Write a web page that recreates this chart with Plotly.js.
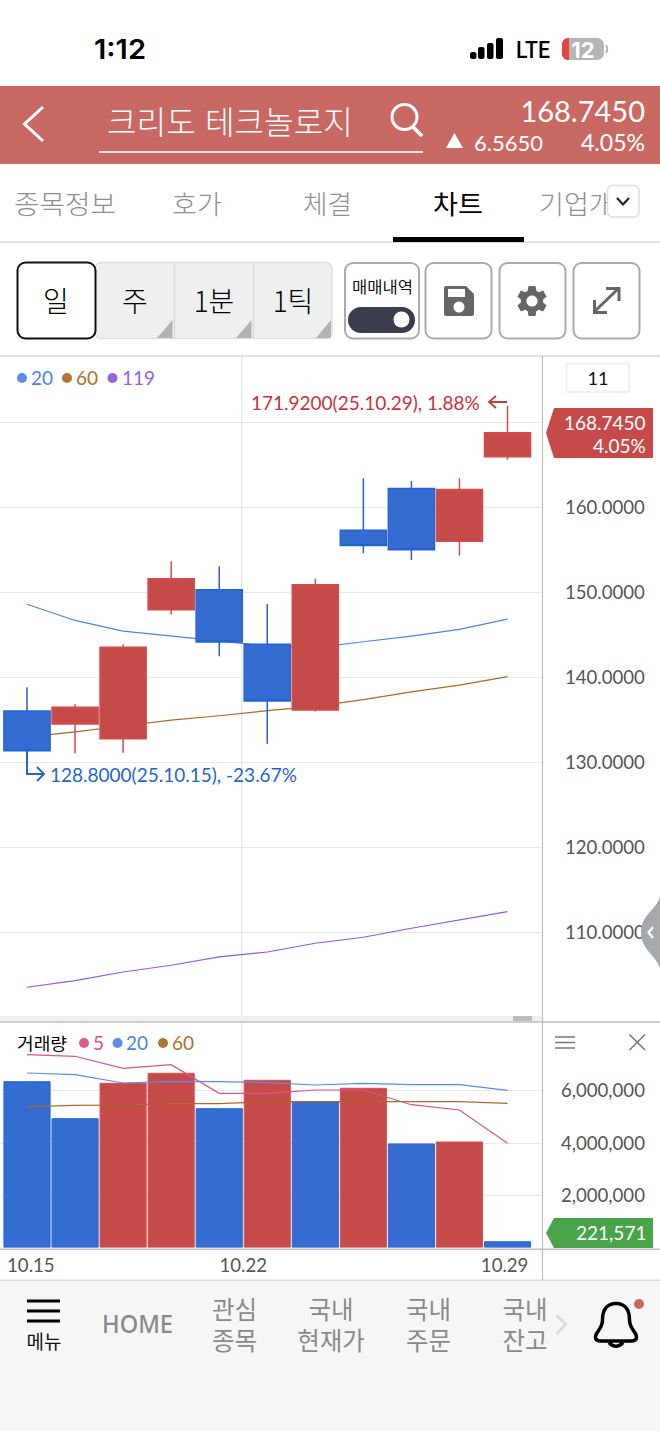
<!DOCTYPE html>
<html lang="ko"><head><meta charset="utf-8">
<script src="https://cdn.plot.ly/plotly-3.0.1.min.js"></script>
<style>
html,body{margin:0;padding:0;background:#fff;width:660px;height:1431px;overflow:hidden}
#chart{position:absolute;left:0;top:0;width:660px;height:1431px}
#ui{position:absolute;left:0;top:0;pointer-events:none}
#ui text{dominant-baseline:central;font-family:"Noto Sans CJK KR","Noto Sans",sans-serif}
#ui .n{font-family:Lato,"Noto Sans",sans-serif}
</style></head><body>
<div id="chart"></div>
<svg id="ui" width="660" height="1431" viewBox="0 0 660 1431" xmlns="http://www.w3.org/2000/svg">
  <defs><clipPath id="tabclip"><rect x="0" y="170" width="607" height="60"/></clipPath></defs>
  <!-- status bar -->
  <text x="94" y="49" font-size="27" font-weight="600" style="font-family:Inter" textLength="52" lengthAdjust="spacingAndGlyphs">1:12</text>
  <g fill="#000"><rect x="470" y="52" width="6.5" height="7" rx="2.5"/><rect x="478" y="47" width="6.5" height="12" rx="2"/><rect x="487" y="43" width="6.5" height="16" rx="2"/><rect x="496" y="38" width="7" height="21" rx="2"/></g>
  <text x="516" y="50" font-size="23" font-weight="500" style="font-family:Roboto" textLength="34" lengthAdjust="spacingAndGlyphs">LTE</text>
  <rect x="562" y="38" width="42" height="22" rx="7" fill="#b5b5b5"/><path d="M569 38h-1a6 6 0 0 0-6 6v10a6 6 0 0 0 6 6h1z" fill="#ea4141"/>
  <text x="583" y="49.5" text-anchor="middle" font-size="22" font-weight="700" fill="#fff" style="font-family:Inter">12</text>
  <path d="M606 45q2.5 4 0 8" stroke="#b5b5b5" stroke-width="2" fill="none"/>
  <!-- header -->
  <rect x="0" y="86" width="660" height="78" fill="#c96964"/>
  <path d="M43 107L24.500 124L43 141" fill="none" stroke="#fff" stroke-width="3"/>
  <text x="107" y="120" font-size="31.500" font-weight="300" fill="#fff" textLength="246" lengthAdjust="spacingAndGlyphs">크리도 테크놀로지</text>
  <rect x="99" y="151" width="324" height="2" fill="#f3e3e1"/>
  <circle cx="404.500" cy="117" r="12.500" fill="none" stroke="#fff" stroke-width="3"/><path d="M413 127L422 136" stroke="#fff" stroke-width="3.500"/>
  <text class="n" x="645" y="110" text-anchor="end" font-size="29" fill="#fff">168.7450</text>
  <path d="M446 148L454.500 133L463 148Z" fill="#fff"/>
  <text class="n" x="474" y="142" font-size="22" fill="#fff" textLength="69" lengthAdjust="spacingAndGlyphs">6.5650</text>
  <text class="n" x="581" y="142" font-size="22.500" fill="#fff" textLength="64" lengthAdjust="spacingAndGlyphs">4.05%</text>
  <!-- tabs -->
  <g font-size="26" fill="#8f8f8f" font-weight="300">
    <text x="14" y="202" textLength="102" lengthAdjust="spacingAndGlyphs">종목정보</text>
    <text x="172" y="202" textLength="50" lengthAdjust="spacingAndGlyphs">호가</text>
    <text x="303" y="202" textLength="49" lengthAdjust="spacingAndGlyphs">체결</text>
    <text x="433" y="202" textLength="50" lengthAdjust="spacingAndGlyphs" fill="#000" font-weight="400">차트</text>
    <g clip-path="url(#tabclip)"><text x="539" y="202" textLength="100" lengthAdjust="spacingAndGlyphs">기업개요</text></g>
  </g>
  <rect x="607.500" y="185.500" width="31.500" height="31.500" rx="5" fill="#fff" stroke="#dedede" stroke-width="1.500"/>
  <path d="M617 198L623 204.500L629 198" fill="none" stroke="#222" stroke-width="2.200"/>
  <rect x="0" y="241.500" width="660" height="1.500" fill="#dcdcdc"/>
  <rect x="393" y="237" width="131" height="5" fill="#000"/>
  <!-- toolbar -->
  <rect x="95" y="262.500" width="237" height="76" rx="6" fill="#eef0f0" stroke="#dfdfdf" stroke-width="1.500"/>
  <path d="M174.500 262V339M253.500 262V339" stroke="#dcdcdc" stroke-width="1.500"/>
  <g fill="#b2b2b2"><path d="M172.500 320V338H157Z"/><path d="M251.500 320V338H236Z"/><path d="M331 320V338H316Z"/></g>
  <rect x="17.500" y="262.500" width="78" height="76" rx="8" fill="#fff" stroke="#111" stroke-width="2"/>
  <g font-size="28" fill="#000" text-anchor="middle" font-weight="300">
    <text x="56" y="300">일</text><text x="135" y="300">주</text><text x="214" y="300">1분</text><text x="293" y="300">1틱</text>
  </g>
  <g fill="#fff" stroke="#ababab" stroke-width="2">
    <rect x="345" y="263" width="74" height="75.500" rx="8"/><rect x="425.500" y="263" width="66" height="75.500" rx="8"/><rect x="499.500" y="263" width="66" height="75.500" rx="8"/><rect x="573.500" y="263" width="66" height="75.500" rx="8"/>
  </g>
  <text x="382.500" y="286" text-anchor="middle" font-size="15.500" fill="#111" textLength="61" lengthAdjust="spacingAndGlyphs">매매내역</text>
  <rect x="348" y="307" width="67" height="26" rx="13" fill="#3a3d4c"/><circle cx="401.500" cy="319.500" r="8" fill="#fff"/>
  <path d="M446 286H466L474 294V314a2 2 0 0 1-2 2H446a2 2 0 0 1-2-2V288a2 2 0 0 1 2-2Z" fill="#666"/>
  <rect x="448" y="289" width="17" height="8" fill="#fff"/><circle cx="459" cy="307" r="5.500" fill="#fff"/>
  <g transform="translate(513.400,282.400) scale(1.550)"><path fill="#666" d="M19.140 12.940c.04-.3.06-.61.06-.94 0-.32-.02-.64-.07-.94l2.030-1.580a.49.49 0 0 0 .12-.61l-1.920-3.320a.488.488 0 0 0-.59-.22l-2.390.96c-.5-.38-1.030-.7-1.620-.94l-.36-2.540a.484.484 0 0 0-.48-.41h-3.840c-.24 0-.43.17-.47.41l-.36 2.540c-.59.24-1.130.57-1.620.94l-2.390-.96c-.22-.08-.47 0-.59.22L2.740 8.870c-.12.21-.08.47.12.61l2.030 1.580c-.05.3-.09.63-.09.94s.02.64.07.94l-2.030 1.580a.49.49 0 0 0-.12.61l1.920 3.320c.12.22.37.29.59.22l2.390-.96c.5.38 1.030.7 1.620.94l.36 2.540c.05.24.24.41.48.41h3.840c.24 0 .44-.17.47-.41l.36-2.540c.59-.24 1.130-.56 1.620-.94l2.390.96c.22.08.47 0 .59-.22l1.920-3.320c.12-.22.07-.47-.12-.61l-2.010-1.580zM12 15.600c-1.980 0-3.600-1.620-3.600-3.600s1.620-3.600 3.600-3.600 3.600 1.620 3.600 3.600-1.620 3.600-3.600 3.600z"/></g>
  <g fill="none" stroke="#666" stroke-width="3"><path d="M595 311L618 289"/><path d="M606 288.500H619V301"/><path d="M594.500 300V312.500H607"/></g>
  <!-- chart legend -->
  <g class="n">
    <circle cx="22" cy="378" r="5" fill="#5d8ae4"/><text class="n" x="31" y="377.5" font-size="19" fill="#4f82e4">20</text>
    <circle cx="67" cy="378" r="5" fill="#b07538"/><text class="n" x="76" y="377.5" font-size="19" fill="#b07030">60</text>
    <circle cx="112.500" cy="378" r="5" fill="#9763da"/><text class="n" x="122" y="377.5" font-size="19" fill="#9763da">119</text>
  </g>
  <rect x="566.500" y="363.500" width="62.500" height="28.500" fill="#fff" stroke="#ececec" stroke-width="1.500"/>
  <text class="n" x="598" y="377.500" text-anchor="middle" font-size="18" fill="#111">11</text>
  <!-- extreme arrows -->
  <g fill="none" stroke="#c93a3a" stroke-width="1.800"><path d="M507 402H489M496 396L489 402L496 408"/></g>
  <g fill="none" stroke="#1f62cc" stroke-width="1.800"><path d="M27 750V774H44M37 767L44 774L37 781"/></g>
  <!-- slide handle -->
  <path d="M660 897C656 910 641 915 641 932C641 950 656 955 660 968Z" fill="#a6aaae"/>
  <path d="M653 927L648.500 932.500L653 938" fill="none" stroke="#fff" stroke-width="2.200"/>
  <!-- volume legend -->
  <text x="17" y="1042.500" font-size="16.500" fill="#000" textLength="50" lengthAdjust="spacingAndGlyphs">거래량</text>
  <circle cx="84" cy="1043" r="5" fill="#d85f8f"/><text class="n" x="93" y="1042.500" font-size="19" fill="#d64f83">5</text>
  <circle cx="117.500" cy="1043" r="5" fill="#5d8ae4"/><text class="n" x="126" y="1042.500" font-size="19" fill="#4f82e4">20</text>
  <circle cx="163" cy="1043" r="5" fill="#b07538"/><text class="n" x="172" y="1042.500" font-size="19" fill="#b07030">60</text>
  <path d="M555 1037H575M555 1042.500H575M555 1048H575" stroke="#777" stroke-width="1.500"/>
  <path d="M629.500 1034.500L645 1050M645 1034.500L629.500 1050" stroke="#777" stroke-width="1.500"/>
  <!-- bottom nav -->
  <rect x="0" y="1281" width="660" height="150" fill="#f5f7f6"/>
  <path d="M27 1301H60M27 1311H60M27 1321H60" stroke="#000" stroke-width="3"/>
  <text x="44" y="1340" text-anchor="middle" font-size="19" fill="#111">메뉴</text>
  <text x="102" y="1323" font-size="26" font-weight="500" fill="#8a8a8a" textLength="71" lengthAdjust="spacingAndGlyphs" style="font-family:'Noto Sans'">HOME</text>
  <g font-size="24.500" fill="#8a8a8a" text-anchor="middle" font-weight="400">
    <text y="1308"><tspan x="234.500">관심</tspan><tspan x="234.500" dy="31">종목</tspan></text>
    <text y="1308"><tspan x="331">국내</tspan><tspan x="331" dy="31">현재가</tspan></text>
    <text y="1308"><tspan x="428.500">국내</tspan><tspan x="428.500" dy="31">주문</tspan></text>
    <text y="1308"><tspan x="525">국내</tspan><tspan x="525" dy="31">잔고</tspan></text>
  </g>
  <path d="M556.500 1315L565.500 1324.500L556.500 1334" fill="none" stroke="#dcdcdc" stroke-width="3"/>
  <path d="M616 1303.500C606 1303.500 602.500 1311 602.500 1320C602.500 1329 595.500 1332 595.500 1337C595.500 1340 598 1341 601 1341H631C634 1341 636.500 1340 636.500 1337C636.500 1332 629.500 1329 629.500 1320C629.500 1311 626 1303.500 616 1303.500Z" fill="none" stroke="#000" stroke-width="3.500"/>
  <path d="M609 1342.500Q616 1350 623 1342.500" fill="none" stroke="#000" stroke-width="3.500"/>
  <circle cx="639" cy="1304" r="5" fill="#cb6662"/>
</svg>
<script>
// ---- data ----
const dates = ['25.10.15','25.10.16','25.10.17','25.10.20','25.10.21','25.10.22','25.10.23','25.10.24','25.10.27','25.10.28','25.10.29'];
const openP  = [136.06,134.54,132.80,147.97,150.30,143.90,136.18,157.30,162.20,156.00,165.95];
const closeP = [131.40,136.50,143.55,151.60,144.17,137.24,150.90,155.50,155.00,162.10,168.745];
const highP  = [138.85,136.85,143.90,153.65,153.07,148.64,151.60,163.40,163.10,163.40,171.92];
const lowP   = [128.80,131.10,131.16,147.40,142.50,132.20,136.00,154.60,153.80,154.30,165.60];
const ma20P  = [148.60,146.70,145.45,144.90,144.30,143.70,143.50,144.20,144.85,145.65,146.85];
const ma60P  = [133.00,133.60,134.30,135.00,135.50,136.10,136.60,137.40,138.30,139.10,140.10];
const ma119P = [103.60,104.37,105.39,106.18,107.16,107.74,108.77,109.47,110.53,111.47,112.48];
const volume = [6352000,4935000,6290000,6674000,5318000,6406000,5586000,6100000,3966000,4042000,221571];
const volumeUp = [false,false,true,true,false,true,false,true,false,true,false];
const ma5V  = [7387000,7326000,6866000,7004000,5908000,5908000,6035000,6035000,5471000,5268000,3992000];
const ma20V = [6686000,6621000,6303000,6368000,6352000,6314000,6226000,6291000,6238000,6238000,6023000];
const ma60V = [5395000,5448000,5460000,5510000,5510000,5586000,5586000,5586000,5586000,5586000,5525000];
const priceTicks = [110,120,130,140,150,160,170];
const volumeTicks = [2000000,4000000,6000000];
const dateTickLabels = ['10.15','10.22','10.29'];
const dateTickSlots = [0.08,4.5,9.94];
const highLabel = '171.9200(25.10.29), 1.88%';
const lowLabel = '128.8000(25.10.15), -23.67%';
const lastPrice = '168.7450', lastPct = '4.05%', lastVolume = '221,571';

// ---- chart ----
const W=660,H=1431;
const px=x=>x/W, py=y=>1-y/H;
const idx=dates.map((_,i)=>i);
const RED='#c64a47',BLUE='#356cd1';
const priceRange=[100.22,177.66];
const line=(y,c,ya,xa)=>({type:'scatter',mode:'lines',x:idx,y:y,xaxis:xa,yaxis:ya,line:{color:c,width:1.2,shape:'linear'},hoverinfo:'skip',showlegend:false,cliponaxis:false});
const traces=[
  line(ma20P,'#4f82e4','y','x'),
  line(ma60P,'#a9692c','y','x'),
  line(ma119P,'#8f5bdc','y','x'),
  {type:'candlestick',x:idx,open:openP,high:highP,low:lowP,close:closeP,xaxis:'x',yaxis:'y3',whiskerwidth:0,showlegend:false,
   increasing:{line:{color:'#d24c4c',width:1.5},fillcolor:RED},
   decreasing:{line:{color:'#2463d6',width:1.5},fillcolor:BLUE}},
  {type:'bar',x:idx,y:volume,xaxis:'x2',yaxis:'y2',width:0.96,showlegend:false,
   marker:{color:volumeUp.map(u=>u?RED:BLUE),line:{color:volumeUp.map(u=>u?'#d9504f':'#2463d6'),width:1}}},
  line(ma5V,'#d9548a','y2','x2'),
  line(ma20V,'#5d8ae8','y2','x2'),
  line(ma60V,'#a9692c','y2','x2')
];
const tickFont={family:'Lato',size:18.6,color:'#555'};
const hline=(y,c,w)=>({type:'line',xref:'paper',yref:'paper',x0:0,x1:1,y0:py(y),y1:py(y),line:{color:c,width:w},layer:'above'});
const vline=(x,y0,y1,c,w,layer)=>({type:'line',xref:'paper',yref:'paper',x0:px(x),x1:px(x),y0:py(y0),y1:py(y1),line:{color:c,width:w},layer:layer});
const rect=(x0,y0,x1,y1,c)=>({type:'rect',xref:'paper',yref:'paper',x0:px(x0),x1:px(x1),y0:py(y0),y1:py(y1),fillcolor:c,line:{width:0},layer:'above'});
const tag=(yTop,yBot,c)=>{const m=(yTop+yBot)/2;
  return {type:'path',xref:'paper',yref:'paper',layer:'above',fillcolor:c,line:{width:0},
    path:`M${px(546)} ${py(m)}L${px(554)} ${py(yTop)}L${px(653)} ${py(yTop)}L${px(653)} ${py(yBot)}L${px(554)} ${py(yBot)}Z`};};
const shapes=[
  vline(241.7,357,1247,'#e6e6e6',1.2,'below'),
  rect(0,1016,542,1021,'#efefef'),
  rect(513,1016,532,1021,'#bcbcbc'),
  hline(356,'#c9c9c9',1.2),
  hline(1022,'#bdbdbd',1.5),
  hline(1249.3,'#bdbdbd',1.5),
  hline(1280.3,'#dedede',1.5),
  vline(542.5,356,1280,'#bdbdbd',1.2,'above'),
  tag(408,458,'#c54a49'),
  tag(1218,1248,'#4aa54a')
];
const note=(text,x,y,color,size,extra)=>Object.assign({text:text,xref:'paper',yref:'paper',x:px(x),y:py(y),xanchor:'right',yanchor:'middle',showarrow:false,borderpad:0,font:{family:'Lato',size:size,color:color}},extra||{});
const annotations=[
  {text:highLabel,xref:'x',yref:'y',x:10,y:highP[10],xanchor:'right',yanchor:'middle',xshift:-27,yshift:3.5,showarrow:false,borderpad:0,font:{family:'Lato',size:19,color:'#c8333a'}},
  {text:lowLabel,xref:'x',yref:'y',x:0,y:lowP[0],xanchor:'left',yanchor:'middle',xshift:22,yshift:-1.5,showarrow:false,borderpad:0,font:{family:'Lato',size:19,color:'#1f66cc'}},
  note(lastPrice,647,422,'#fff',19),
  note(lastPct,647,445,'#fff',19),
  note(lastVolume,647,1232,'#fff',19)
];
const layout={
  width:W,height:H,margin:{l:0,r:0,t:0,b:0},paper_bgcolor:'rgba(0,0,0,0)',plot_bgcolor:'#fff',
  showlegend:false,boxmode:'overlay',boxgap:0.04,boxgroupgap:0,barmode:'overlay',dragmode:false,
  xaxis:{domain:[0,px(542)],range:[-0.562,10.718],anchor:'y',showticklabels:false,showgrid:false,zeroline:false,ticks:'',rangeslider:{visible:false},fixedrange:true},
  xaxis2:{domain:[0,px(542)],range:[-0.562,10.718],anchor:'y2',tickmode:'array',tickvals:dateTickSlots,ticktext:dateTickLabels,showgrid:false,zeroline:false,ticks:'',ticklabelstandoff:5,tickfont:tickFont,fixedrange:true},
  yaxis:{domain:[py(1016),py(357)],range:priceRange,anchor:'x',side:'right',tickmode:'array',tickvals:priceTicks,tickformat:'.4f',showgrid:true,gridcolor:'#e8e8e8',gridwidth:1.3,zeroline:false,ticks:'',ticklabelstandoff:22,ticklabelshift:-1.5,tickfont:tickFont,fixedrange:true},
  yaxis3:{domain:[py(1016),py(357)],range:priceRange,overlaying:'y',anchor:'x',side:'right',visible:false,showgrid:false,fixedrange:true},
  yaxis2:{domain:[py(1247.5),py(1023)],range:[0,8601000],anchor:'x2',side:'right',tickmode:'array',tickvals:volumeTicks,tickformat:',d',showgrid:true,gridcolor:'#e8e8e8',gridwidth:1.3,zeroline:false,ticks:'',ticklabelstandoff:18,ticklabelshift:-1.5,tickfont:tickFont,fixedrange:true},
  shapes:shapes,annotations:annotations
};
Plotly.newPlot('chart',traces,layout,{displayModeBar:false,responsive:false});
</script>
</body></html>
